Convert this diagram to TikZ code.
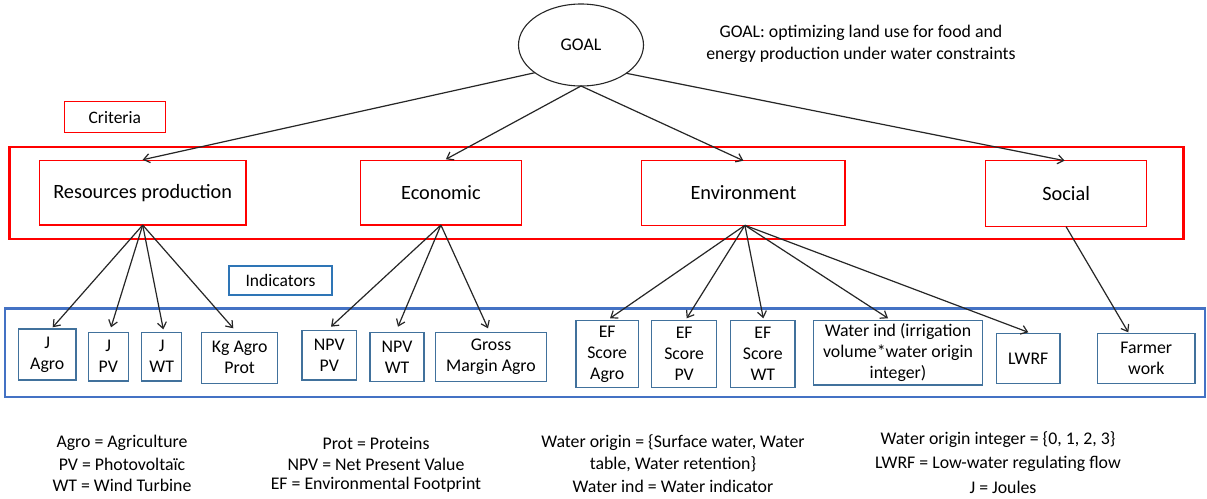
\documentclass[tikz,border=0pt]{standalone}
\usepackage{fontspec}
\setmainfont{Carlito}
\usetikzlibrary{arrows.meta,shapes.geometric}
\definecolor{linec}{HTML}{262626}
\definecolor{frameblue}{HTML}{4472C4}
\definecolor{boxblue}{HTML}{41719C}
\definecolor{labelblue}{HTML}{2E75B6}
\begin{document}
\begin{tikzpicture}[x=1pt,y=-1pt,
  every node/.style={inner sep=0pt, outer sep=0pt, text=black},
  critbox/.style={draw=red, line width=1.2pt, font=\fontsize{20.3}{24}\selectfont},
  critframe/.style={draw=red, line width=2.7pt},
  indframe/.style={draw=frameblue, line width=2.7pt},
  indbox/.style={draw=boxblue, line width=1.3pt, align=center, font=\fontsize{17.8}{21}\selectfont},
  labelbox/.style={line width=1.1pt, font=\fontsize{17.5}{21}\selectfont},
  conn/.style={draw=linec, line width=1.2pt, -{Straight Barb[length=6pt,width=9pt]}},
  legend/.style={font=\fontsize{17.8}{22}\selectfont}]
\fill[white] (0,0) rectangle (1207,498);
\useasboundingbox (0,0) rectangle (1207,498);

% goal
\node[ellipse, draw=linec, line width=1.1pt, minimum width=125pt, minimum height=82pt,
      font=\fontsize{17.8}{21}\selectfont] (goal) at (581,45) {GOAL};
\node[align=center, font=\fontsize{17.8}{22}\selectfont] (desc) at (861,44)
  {GOAL: optimizing land use for food and\\energy production under water constraints};

% criteria
\node[labelbox, draw=red, minimum width=101pt, minimum height=31pt] (critlabel) at (114.8,117.2) {Criteria};
\node[critframe, minimum width=1174.5pt, minimum height=92pt] (critrow) at (596.5,193) {};
\node[critbox, minimum width=206.7pt, minimum height=64.3pt] (res) at (142.7,192.9) {Resources production};
\node[critbox, minimum width=160.7pt, minimum height=64.3pt] (eco) at (440.9,192.9) {Economic};
\node[critbox, minimum width=203.2pt, minimum height=64.6pt] (env) at (743.4,193) {Environment};
\node[critbox, minimum width=161pt, minimum height=66pt] (soc) at (1066.1,193.7) {Social};

% indicators
\node[labelbox, draw=labelblue, minimum width=103pt, minimum height=29pt] (indlabel) at (280.5,280.5) {Indicators};
\node[indframe, minimum width=1200pt, minimum height=88.7pt] (indrow) at (605,352.6) {};
\node[indbox, minimum width=57.7pt, minimum height=51pt] (ja) at (47.2,354.5) {J\\Agro};
\node[indbox, minimum width=40pt, minimum height=48.7pt] (jpv) at (108.3,356.7) {J\\PV};
\node[indbox, minimum width=40pt, minimum height=48.7pt] (jwt) at (161.7,356.7) {J\\WT};
\node[indbox, minimum width=76pt, minimum height=51pt] (kg) at (239.7,357.8) {Kg Agro\\Prot};
\node[indbox, minimum width=54.7pt, minimum height=49.3pt] (npvpv) at (329.3,355.3) {NPV\\PV};
\node[indbox, minimum width=54pt, minimum height=49.4pt] (npvwt) at (397,357) {NPV\\WT};
\node[indbox, minimum width=111pt, minimum height=49.4pt] (gma) at (491,357) {Gross\\Margin Agro};
\node[indbox, minimum width=62.3pt, minimum height=66.6pt] (efa) at (607.2,354) {EF\\Score\\Agro};
\node[indbox, minimum width=65pt, minimum height=66.6pt] (efpv) at (684.2,354) {EF\\Score\\PV};
\node[indbox, minimum width=64.3pt, minimum height=66.6pt] (efwt) at (762.8,354) {EF\\Score\\WT};
\node[indbox, minimum width=169.4pt, minimum height=64.3pt] (water) at (898,352.8) {Water ind (irrigation\\volume*water origin\\integer)};
\node[indbox, minimum width=63.3pt, minimum height=50pt] (lwrf) at (1028.3,358.3) {LWRF};
\node[indbox, minimum width=97.3pt, minimum height=50pt] (farmer) at (1146.3,358.3) {Farmer\\work};

% goal -> criteria
\draw[conn] (goal.211) -- ([yshift=1pt]res.north);
\draw[conn] (goal.south) -- ([xshift=5pt,yshift=1.5pt]eco.north);
\draw[conn] (goal.south) -- (env.north);
\draw[conn] (goal.328) -- ([xshift=-1.5pt]soc.north);

% criteria -> indicators
\draw[conn] (res.south) -- ([xshift=5.5pt,yshift=1.7pt]ja.north);
\draw[conn] (res.south) -- ([xshift=2.7pt,yshift=5pt]jpv.north);
\draw[conn] (res.south) -- ([xshift=1.6pt,yshift=3pt]jwt.north);
\draw[conn] (res.south) -- ([xshift=-6.4pt,yshift=4pt]kg.north);
\draw[conn] (eco.south) -- ([xshift=1.7pt,yshift=4pt]npvpv.north);
\draw[conn] (eco.south) -- ([xshift=1pt,yshift=5.6pt]npvwt.north);
\draw[conn] (eco.south) -- ([xshift=-3pt,yshift=4pt]gma.north);
\draw[conn] ([xshift=1.5pt]env.south) -- ([xshift=2.8pt,yshift=2.4pt]efa.north);
\draw[conn] ([xshift=1.5pt]env.south) -- ([xshift=2.5pt,yshift=2.4pt]efpv.north);
\draw[conn] ([xshift=1.5pt]env.south) -- ([xshift=0.5pt,yshift=2.4pt]efwt.north);
\draw[conn] ([xshift=1.5pt]env.south) -- ([xshift=-10pt,yshift=2.4pt]water.north);
\draw[conn] ([xshift=1.5pt]env.south) -- ([yshift=1pt]lwrf.north);
\draw[conn] (soc.south) -- ([xshift=-18pt,yshift=1pt]farmer.north);

% legend
\node[legend] (l1a) at (122,443) {Agro = Agriculture};
\node[legend] (l1b) at (122,464) {PV = Photovolta\"ic};
\node[legend] (l1c) at (122,485) {WT = Wind Turbine};
\node[legend] (l2a) at (376,443) {Prot = Proteins};
\node[legend] (l2b) at (376,464) {NPV = Net Present Value};
\node[legend] (l2c) at (376,485) {EF = Environmental Footprint};
\node[legend] (l3a) at (673,443) {Water origin = \{Surface water, Water};
\node[legend] (l3b) at (673,464) {table, Water retention\}};
\node[legend] (l3c) at (673,486) {Water ind = Water indicator};
\node[legend] (l4a) at (998,440) {Water origin integer = \{0, 1, 2, 3\}};
\node[legend] (l4b) at (998,464) {LWRF = Low-water regulating flow};
\node[legend] (l4c) at (1003,487) {J = Joules};
\end{tikzpicture}
\end{document}
